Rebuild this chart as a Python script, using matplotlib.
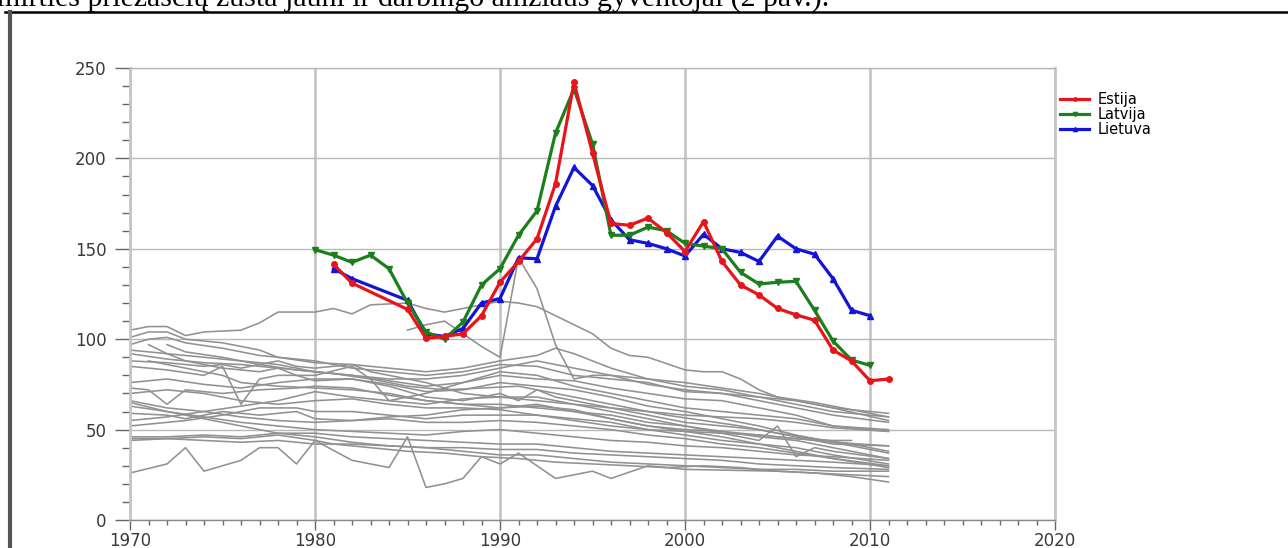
import matplotlib
matplotlib.use('Agg')
import matplotlib.pyplot as plt
from matplotlib.lines import Line2D

# Baltic states
est_years = [1981, 1982] + list(range(1985, 2012))
est_vals = [141.5, 131, 116.5, 100.5, 101.5, 103, 113, 131.5, 143, 155.5, 186, 242, 203,
            164, 163, 167, 159, 148.5, 165, 143, 130, 124.5, 117, 113.5, 110.5, 94, 88, 77, 78]

lat_years = list(range(1980, 2011))
lat_vals = [149.5, 146.5, 142.5, 146.5, 139, 120, 104, 100, 109.5, 130, 139, 157.5, 171, 214,
            238.5, 208, 157.5, 157.5, 162, 160, 153, 151.5, 150, 137, 130.5, 131.5, 132, 116,
            99, 88.5, 85.5]

lit_years = [1981, 1982] + list(range(1985, 2011))
lit_vals = [139, 133.5, 121.5, 103, 101.5, 106, 120, 122.5, 145, 144.5, 173.5, 195, 185, 166,
            155, 153, 150, 146, 158, 150, 148, 143, 157, 150, 147, 133.5, 116, 113]

# other European countries (background)
gray_lines = [
    ([1970, 1971, 1972, 1973, 1974, 1976, 1977, 1978, 1980, 1981, 1982, 1983, 1985, 1986, 1987,
      1988, 1990, 1991, 1992, 1993, 1995, 1996, 1997, 1998, 2000, 2001, 2002, 2003, 2004, 2005,
      2007, 2009, 2011],
     [105, 107, 107, 102, 104, 105, 109, 115, 115, 117, 114, 119, 120, 117, 115, 117, 121, 120,
      118, 113, 103, 95, 91, 90, 83, 82, 82, 78, 72, 68, 65, 61, 57]),
    ([1985, 1986, 1987, 1988, 1989, 1990, 1991, 1992, 1993, 1994, 1995, 1996, 1998, 2000, 2002,
      2004, 2006, 2008, 2011],
     [105, 108, 110, 103, 96, 90, 145, 128, 97, 78, 80, 80, 75, 72, 70, 66, 62, 58, 54]),
    ([1970, 1971, 1972, 1973, 1975, 1977, 1978, 1980, 1982, 1984, 1986, 1988, 1990, 1992, 1993,
      1994, 1996, 1998, 2000, 2002, 2004, 2006, 2008, 2011],
     [101, 104, 104, 100, 98, 94, 90, 87, 86, 84, 82, 84, 88, 91, 95, 92, 84, 78, 74, 72, 68,
      64, 60, 57]),
    ([1970, 1971, 1972, 1973, 1975, 1977, 1979, 1980, 1982, 1984, 1986, 1988, 1990, 1992, 1994,
      1996, 1998, 2000, 2002, 2004, 2006, 2008, 2011],
     [97, 100, 101, 98, 95, 91, 89, 88, 84, 82, 80, 82, 86, 85, 80, 78, 76, 71, 70, 68, 66, 62,
      55]),
    ([1970, 1972, 1974, 1976, 1978, 1980, 1982, 1984, 1986, 1988, 1990, 1992, 1994, 1996, 1998,
      2000, 2002, 2004, 2006, 2008, 2011],
     [94, 92, 90, 88, 86, 82, 80, 77, 74, 76, 80, 78, 77, 73, 70, 67, 66, 62, 58, 52, 50]),
    ([1971, 1972, 1973, 1975, 1977, 1978, 1979, 1980, 1982, 1984, 1986, 1988, 1990, 1992, 1994,
      1996, 1998, 2000, 2002, 2004, 2006, 2008, 2011],
     [97, 92, 88, 84, 82, 84, 80, 77, 78, 75, 71, 72, 76, 74, 72, 68, 63, 60, 56, 52, 47, 43,
      37]),
    ([1970, 1972, 1974, 1975, 1976, 1978, 1979, 1980, 1982, 1983, 1984, 1986, 1988, 1990, 1992,
      1994, 1996, 1998, 2000, 2002, 2004, 2006, 2008, 2011],
     [88, 87, 85, 86, 84, 88, 85, 84, 86, 82, 80, 76, 70, 68, 68, 64, 60, 56, 52, 49, 46, 44,
      40, 34]),
    ([1971, 1973, 1975, 1976, 1978, 1980, 1982, 1984, 1986, 1988, 1990, 1992, 1994, 1996, 1998,
      2000, 2002, 2004, 2006, 2008, 2011],
     [88, 84, 80, 76, 74, 73, 72, 70, 66, 64, 62, 64, 60, 56, 52, 49, 46, 42, 40, 36, 31]),
    ([1970, 1972, 1974, 1975, 1976, 1977, 1978, 1980, 1982, 1983, 1984, 1985, 1986, 1988, 1990,
      1992, 1994, 1996, 1998, 2000, 2002, 2004, 2006, 2008, 2011],
     [85, 83, 80, 85, 64, 78, 80, 80, 85, 78, 66, 68, 70, 76, 82, 80, 74, 70, 66, 62, 60, 58,
      56, 52, 49]),
    ([1970, 1972, 1974, 1976, 1978, 1980, 1982, 1984, 1986, 1988, 1990, 1991, 1992, 1993, 1994,
      1996, 1998, 2000, 2002, 2004, 2006, 2008, 2011],
     [76, 78, 75, 73, 76, 78, 78, 74, 68, 66, 70, 66, 72, 68, 66, 62, 58, 54, 52, 50, 46, 42,
      41]),
    ([1970, 1971, 1972, 1973, 1975, 1977, 1979, 1980, 1982, 1984, 1986, 1988, 1990, 1992, 1994,
      1996, 1998, 2000, 2002, 2004, 2005, 2006, 2007, 2008, 2011],
     [73, 72, 64, 72, 70, 72, 73, 74, 73, 69, 66, 64, 64, 62, 60, 58, 54, 52, 48, 44, 52, 35,
      40, 38, 34]),
    ([1970, 1972, 1974, 1976, 1978, 1980, 1982, 1984, 1986, 1988, 1990, 1992, 1994, 1996, 1998,
      2000, 2002, 2004, 2006, 2008, 2011],
     [70, 72, 70, 66, 64, 66, 67, 64, 62, 62, 61, 58, 56, 54, 50, 47, 44, 42, 38, 34, 30]),
    ([1970, 1972, 1974, 1976, 1978, 1980, 1982, 1984, 1986, 1988, 1990, 1992, 1994, 1996, 1998,
      2000, 2002, 2004, 2006, 2008, 2011],
     [66, 62, 60, 63, 66, 71, 68, 66, 64, 67, 68, 66, 64, 62, 60, 58, 57, 56, 54, 51, 49]),
    ([1970, 1972, 1974, 1976, 1978, 1980, 1982, 1984, 1986, 1988, 1990, 1992, 1994, 1996, 1998,
      2000, 2002, 2004, 2006, 2008, 2011],
     [63, 60, 57, 54, 52, 50, 49, 48, 47, 49, 50, 48, 46, 44, 43, 41, 40, 38, 36, 35, 33]),
    ([1970, 1972, 1973, 1975, 1977, 1979, 1980, 1982, 1984, 1986, 1988, 1990, 1992, 1994, 1996,
      1998, 2000, 2002, 2004, 2006, 2008, 2011],
     [59, 58, 56, 60, 58, 60, 56, 55, 57, 58, 61, 62, 63, 61, 56, 52, 50, 49, 47, 45, 43, 41]),
    ([1970, 1972, 1974, 1976, 1978, 1980, 1982, 1984, 1986, 1988, 1990, 1992, 1994, 1996, 1998,
      2000, 2002, 2004, 2006, 2008, 2011],
     [55, 57, 60, 57, 55, 54, 55, 56, 54, 54, 55, 54, 52, 50, 47, 45, 42, 40, 37, 34, 29]),
    ([1970, 1971, 1973, 1975, 1977, 1979, 1980, 1982, 1984, 1986, 1988, 1990, 1992, 1994, 1996,
      1998, 2000, 2002, 2004, 2006, 2008, 2009],
     [52, 53, 55, 58, 62, 62, 60, 60, 58, 56, 58, 58, 58, 55, 52, 50, 49, 48, 47, 45, 44, 44]),
    ([1970, 1972, 1974, 1976, 1978, 1980, 1982, 1984, 1986, 1988, 1990, 1992, 1994, 1996, 1998,
      2000, 2002, 2004, 2006, 2008, 2011],
     [65, 60, 56, 52, 48, 46, 43, 41, 40, 40, 39, 39, 37, 36, 35, 34, 33, 31, 30, 29, 28]),
    ([1970, 1972, 1974, 1976, 1978, 1980, 1982, 1984, 1986, 1988, 1990, 1992, 1994, 1996, 1998,
      2000, 2002, 2004, 2006, 2008, 2011],
     [46, 46, 47, 46, 48, 48, 46, 45, 44, 43, 42, 42, 40, 38, 37, 36, 35, 34, 33, 32, 30]),
    ([1970, 1972, 1974, 1976, 1978, 1980, 1982, 1984, 1986, 1988, 1990, 1992, 1994, 1996, 1998,
      2000, 2002, 2004, 2006, 2008, 2011],
     [45, 45, 44, 43, 44, 42, 42, 41, 40, 38, 36, 36, 34, 32, 31, 30, 29, 28, 28, 27, 27]),
    ([1970, 1972, 1974, 1976, 1978, 1980, 1981, 1983, 1985, 1987, 1989, 1991, 1993, 1995, 1997,
      1999, 2001, 2003, 2005, 2007, 2009, 2011],
     [44, 45, 46, 45, 47, 44, 42, 40, 38, 37, 35, 34, 32, 31, 30, 29, 30, 29, 27, 26, 24, 21]),
    ([1970, 1972, 1973, 1974, 1976, 1977, 1978, 1979, 1980, 1982, 1984, 1985, 1986, 1987, 1988,
      1989, 1990, 1991, 1993, 1995, 1996, 1998, 2000, 2005, 2011],
     [26, 31, 40, 27, 33, 40, 40, 31, 44, 33, 29, 46, 18, 20, 23, 35, 31, 37, 23, 27, 23, 30,
      28, 27, 24]),
    ([1972, 1973, 1975, 1977, 1979, 1981, 1983, 1985, 1987, 1989, 1991, 1993, 1995, 1997, 1999,
      2001, 2003, 2005, 2007, 2009, 2011],
     [97, 93, 90, 86, 83, 81, 78, 74, 72, 73, 74, 70, 66, 62, 58, 55, 52, 48, 45, 42, 38]),
    ([1970, 1972, 1974, 1976, 1978, 1980, 1982, 1984, 1986, 1988, 1990, 1992, 1994, 1996, 1998,
      2000, 2002, 2004, 2006, 2008, 2011],
     [92, 89, 87, 86, 84, 82, 80, 78, 78, 80, 84, 88, 84, 80, 78, 76, 73, 70, 66, 62, 59]),
]

W, H = 1288, 548
fig = plt.figure(figsize=(W / 100, H / 100), dpi=100)
ax = fig.add_axes([130 / W, 28 / H, 925 / W, 452 / H])

for yrs, vals in gray_lines:
    ax.plot(yrs, vals, color='#919191', lw=1.15, zorder=2)

ax.plot(est_years, est_vals, color='#e8141c', lw=2.3, marker='o', ms=4, label='Estija', zorder=6)
ax.plot(lat_years, lat_vals, color='#1c7f1c', lw=2.3, marker='v', ms=5, label='Latvija', zorder=5)
ax.plot(lit_years, lit_vals, color='#1414d8', lw=2.3, marker='^', ms=5, label='Lietuva', zorder=4)

ax.set_xlim(1970, 2020)
ax.set_ylim(0, 250)
ax.set_xticks(range(1970, 2021, 10))
ax.set_xticks(range(1970, 2021), minor=True)
ax.set_yticks(range(0, 251, 50))
ax.set_yticks(range(0, 251, 10), minor=True)
ax.tick_params(axis='x', which='major', length=7, width=1, color='#666666', pad=1.5, labelsize=12)
ax.tick_params(axis='x', which='minor', length=3.5, width=1, color='#666666')
ax.tick_params(axis='y', which='major', length=11, width=1, color='#666666', pad=6, labelsize=12)
ax.tick_params(axis='y', which='minor', length=5.5, width=1, color='#666666')
for lbl in ax.get_xticklabels() + ax.get_yticklabels():
    lbl.set_color('#3a3a3a')

ax.set_axisbelow(True)
ax.grid(axis='x', which='major', color='#c6c6c6', lw=2)
ax.grid(axis='y', which='major', color='#b8b8b8', lw=1)
for side in ['left', 'right']:
    ax.spines[side].set_color('#c6c6c6')
    ax.spines[side].set_linewidth(2)
ax.spines['top'].set_color('#b8b8b8')
ax.spines['top'].set_linewidth(1)
ax.spines['bottom'].set_color('#888888')
ax.spines['bottom'].set_linewidth(1)

ax.legend(loc='upper left', bbox_to_anchor=(1060 / W, 1 - 92 / H), bbox_transform=fig.transFigure,
          frameon=False, fontsize=10.5, handlelength=2.0, handletextpad=0.6, labelspacing=0.0,
          borderpad=0, borderaxespad=0, markerscale=0.6)

# page text and frame around the figure
fig.text(-0.002, 1 - 6 / H, 'mirties priežasčių žūsta jauni ir darbingo amžiaus gyventojai (2 pav.).',
         family='Liberation Serif', fontsize=21.5, va='baseline', ha='left')
fig.add_artist(Line2D([5 / W, 1], [1 - 11.5 / H, 1 - 11.5 / H], transform=fig.transFigure,
                      color='black', lw=1.8))
fig.add_artist(Line2D([10 / W, 10 / W], [0, 1 - 12 / H], transform=fig.transFigure,
                      color='#555555', lw=3))

fig.savefig('out.png', dpi=100)
